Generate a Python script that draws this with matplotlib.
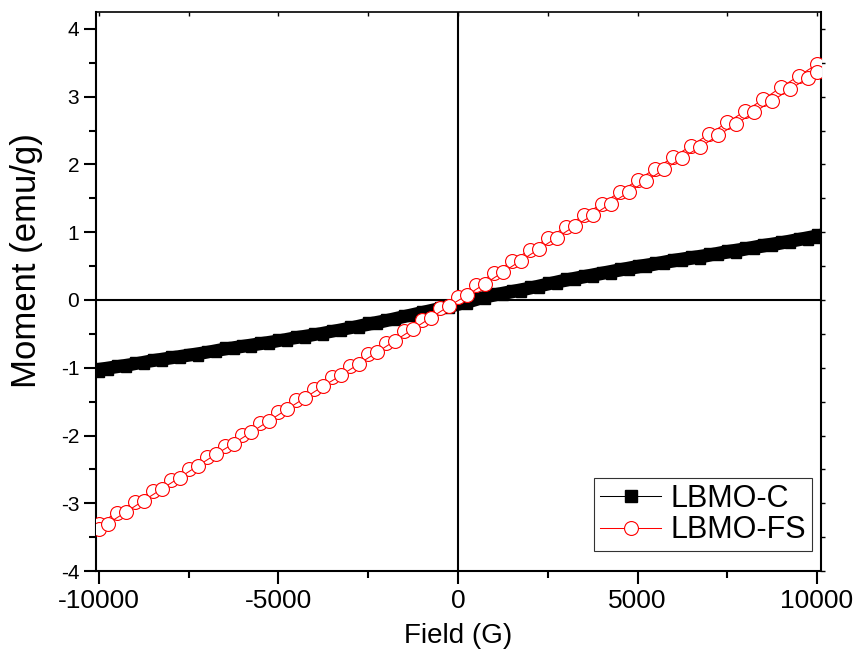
import matplotlib
matplotlib.use("Agg")
import matplotlib.pyplot as plt

plt.rcParams['font.family'] = ['Liberation Sans', 'DejaVu Sans']
plt.rcParams['axes.unicode_minus'] = False

# LBMO-C, ramo descendente (10000 -> -10000 G)
campo_c_desc = [10000, 9500, 9000, 8500, 8000, 7500, 7000, 6500, 6000, 5500,
                5000, 4500, 4000, 3500, 3000, 2500, 2000, 1500, 1000, 500,
                0, -500, -1000, -1500, -2000, -2500, -3000, -3500, -4000, -4500,
                -5000, -5500, -6000, -6500, -7000, -7500, -8000, -8500, -9000, -9500,
                -10000]
momento_c_desc = [0.97, 0.92, 0.87, 0.83, 0.78, 0.74, 0.69, 0.65, 0.61, 0.56,
                  0.52, 0.47, 0.42, 0.37, 0.32, 0.26, 0.20, 0.15, 0.10, 0.03,
                  -0.04, -0.10, -0.16, -0.22, -0.28, -0.33, -0.39, -0.44, -0.49, -0.53,
                  -0.58, -0.62, -0.66, -0.70, -0.75, -0.79, -0.83, -0.87, -0.92, -0.96,
                  -1.00]

# LBMO-C, ramo ascendente (-10000 -> 10000 G)
campo_c_asc = [-10000, -9750, -9250, -8750, -8250, -7750, -7250, -6750, -6250, -5750,
               -5250, -4750, -4250, -3750, -3250, -2750, -2250, -1750, -1250, -750,
               -250, 250, 750, 1250, 1750, 2250, 2750, 3250, 3750, 4250,
               4750, 5250, 5750, 6250, 6750, 7250, 7750, 8250, 8750, 9250,
               9750, 10000]
momento_c_asc = [-1.06, -1.03, -0.99, -0.94, -0.90, -0.86, -0.82, -0.77, -0.73, -0.69,
                 -0.65, -0.60, -0.56, -0.51, -0.46, -0.41, -0.36, -0.30, -0.24, -0.18,
                 -0.12, -0.06, 0.02, 0.07, 0.12, 0.18, 0.24, 0.29, 0.34, 0.39,
                 0.44, 0.48, 0.53, 0.57, 0.61, 0.66, 0.70, 0.75, 0.79, 0.84,
                 0.89, 0.91]

# LBMO-FS, ramo descendente
campo_fs_desc = campo_c_desc
momento_fs_desc = [3.48, 3.31, 3.14, 2.96, 2.79, 2.62, 2.45, 2.28, 2.11, 1.94,
                   1.77, 1.59, 1.42, 1.25, 1.08, 0.91, 0.74, 0.57, 0.40, 0.22,
                   0.05, -0.12, -0.29, -0.46, -0.63, -0.80, -0.97, -1.14, -1.31, -1.48,
                   -1.65, -1.82, -1.99, -2.16, -2.32, -2.49, -2.65, -2.82, -2.98, -3.14,
                   -3.30]

# LBMO-FS, ramo ascendente
campo_fs_asc = campo_c_asc
momento_fs_asc = [-3.38, -3.30, -3.13, -2.96, -2.79, -2.62, -2.45, -2.28, -2.12, -1.95,
                  -1.78, -1.61, -1.44, -1.27, -1.11, -0.94, -0.77, -0.60, -0.43, -0.26,
                  -0.09, 0.07, 0.24, 0.41, 0.58, 0.75, 0.92, 1.09, 1.25, 1.42,
                  1.59, 1.76, 1.93, 2.10, 2.26, 2.43, 2.60, 2.77, 2.94, 3.11,
                  3.28, 3.36]

fig = plt.figure(figsize=(8.57, 6.5), dpi=100)
ax = fig.add_axes([0.112, 0.1215, 0.846, 0.86])

# linhas do zero
ax.axhline(0, color='black', lw=1.5, zorder=1)
ax.axvline(0, color='black', lw=1.5, zorder=1)

# LBMO-C (quadrados pretos, pontos muito densos -> faixa continua)
ax.plot(campo_c_desc, momento_c_desc, color='black', lw=7, marker='s',
        ms=7, mec='black', mfc='black', zorder=2, label='LBMO-C')
ax.plot(campo_c_asc, momento_c_asc, color='black', lw=7, marker='s',
        ms=7, mec='black', mfc='black', zorder=2)

# LBMO-FS (circulos vermelhos abertos)
ax.plot(campo_fs_desc, momento_fs_desc, color='red', lw=0.75, marker='o',
        ms=10, mec='red', mfc='white', mew=0.8, zorder=3, label='LBMO-FS')
ax.plot(campo_fs_asc, momento_fs_asc, color='red', lw=0.75, marker='o',
        ms=10, mec='red', mfc='white', mew=0.8, zorder=3)

ax.set_xlim(-10080, 10110)
ax.set_ylim(-4, 4.25)
ax.set_xticks([-10000, -5000, 0, 5000, 10000])
ax.set_xticks([-7500, -2500, 2500, 7500], minor=True)
ax.set_yticks([-4, -3, -2, -1, 0, 1, 2, 3, 4])
ax.set_yticks([-3.5, -2.5, -1.5, -0.5, 0.5, 1.5, 2.5, 3.5], minor=True)

ax.tick_params(axis='both', which='major', direction='out', length=9, width=1.5)
ax.tick_params(axis='both', which='minor', direction='out', length=5, width=1.5)
ax.tick_params(axis='x', labelsize=19, pad=4)
ax.tick_params(axis='y', labelsize=15, pad=3)

for lado in ['left', 'bottom', 'right']:
    ax.spines[lado].set_linewidth(1.5)
ax.spines['top'].set_linewidth(1.2)

# ticks pequenos em cima e na direita
topo = ax.secondary_xaxis('top')
topo.set_xticks([-10000, -7500, -5000, -2500, 0, 2500, 5000, 7500, 10000])
topo.set_xticklabels([])
topo.tick_params(direction='in', length=3, width=1)
topo.spines['top'].set_visible(False)
direita = ax.secondary_yaxis('right')
direita.set_yticks([-4, -3.5, -3, -2.5, -2, -1.5, -1, -0.5, 0, 0.5, 1, 1.5, 2, 2.5, 3, 3.5, 4])
direita.set_yticklabels([])
direita.tick_params(direction='out', length=3, width=1)
direita.spines['right'].set_visible(False)

ax.set_xlabel('Field (G)', fontsize=20, labelpad=7)
ax.set_ylabel('Moment (emu/g)', fontsize=25)
ax.yaxis.set_label_coords(-0.073, 0.555)

leg = ax.legend(loc='lower right', bbox_to_anchor=(0.988, 0.035), fontsize=22,
                frameon=True, fancybox=False, edgecolor='black', handlelength=2.0,
                handletextpad=0.3, borderpad=0.2, labelspacing=0.05, borderaxespad=0)
leg.get_frame().set_linewidth(0.8)
leg.legend_handles[0].set_markersize(9)
leg.legend_handles[0].set_linewidth(0.75)

plt.savefig('out.png', dpi=100)
